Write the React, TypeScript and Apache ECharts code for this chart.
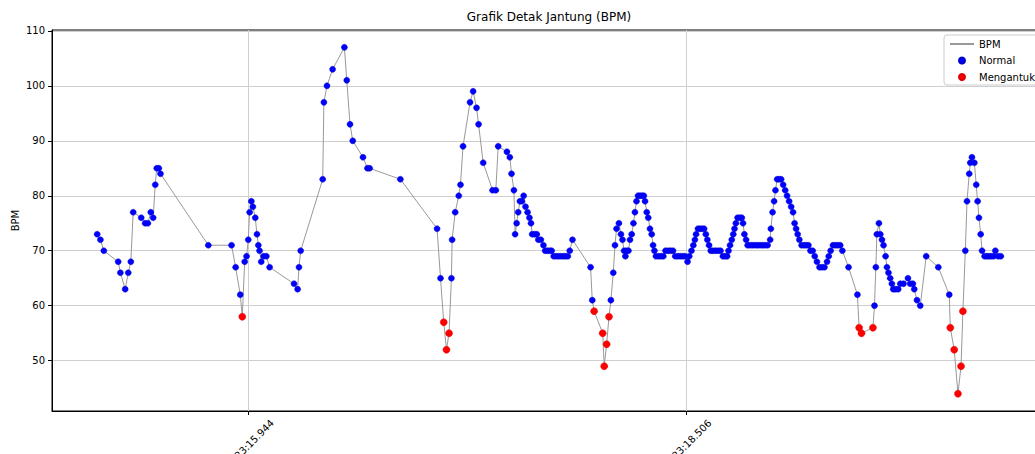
import React, { useEffect, useRef } from "react";
import * as echarts from "echarts";

// time in ms within the minute (HH:MM:ss.SSS -> ss*1000 + SSS)
const timeMs = [
  15057, 15076, 15096, 15180, 15193, 15221, 15239, 15254, 15268, 15315, 15338, 15354, 15371, 15385, 15397, 15406, 15418, 15428,
  15708, 15844, 15868, 15895, 15907, 15921, 15932, 15942, 15950, 15960, 15969, 15983, 15993, 16001, 16008, 16018, 16032, 16048, 16067,
  16210, 16231, 16239, 16249, 16378, 16385, 16403, 16436, 16505, 16519, 16538, 16554, 16614, 16640, 16653, 16833,
  17048, 17068, 17087, 17103, 17118, 17132, 17136, 17154, 17175, 17185, 17200, 17241, 17259, 17279, 17291, 17318, 17373, 17392, 17406,
  17457, 17474, 17484, 17498, 17505, 17514, 17523, 17533, 17545, 17555, 17566, 17578, 17589, 17598, 17605, 17619, 17632, 17641, 17656,
  17671, 17681, 17694, 17708, 17719, 17731, 17745, 17759, 17773, 17787, 17801, 17814, 17825, 17841,
  17947, 17957, 17968, 18018, 18027, 18041, 18055, 18066, 18080, 18090, 18099, 18113, 18125, 18134, 18143, 18151, 18160, 18169, 18178,
  18188, 18198, 18207, 18216, 18225, 18236, 18248, 18259, 18266, 18276, 18285, 18295, 18305, 18313, 18321, 18330, 18345, 18360, 18373,
  18386, 18401, 18415, 18430, 18443, 18458, 18472, 18486, 18500, 18515, 18525, 18538, 18549, 18558, 18565, 18576, 18588, 18600, 18612,
  18622, 18631, 18641, 18651, 18664, 18679, 18694, 18708, 18722, 18735, 18747, 18755, 18764, 18774, 18783, 18790, 18798, 18808, 18821,
  18833, 18840, 18848, 18858, 18867, 18881, 18896, 18911, 18925, 18940, 18955, 18969, 18984,
  18999, 19003, 19013, 19022, 19030, 19040, 19051, 19063, 19075, 19087, 19098, 19110, 19122, 19133, 19142, 19151, 19160, 19170, 19183,
  19197, 19210, 19223, 19235, 19248, 19260, 19273, 19288, 19302, 19317, 19332, 19342, 19353, 19367, 19381, 19395, 19409, 19422, 19458,
  19510, 19520, 19534, 19601, 19610, 19618, 19624, 19636, 19644, 19654, 19663, 19675, 19683, 19692, 19702, 19712, 19720, 19734, 19749,
  19761, 19780, 19806, 19819, 19835, 19843, 19859, 19878, 19913, 19984,
  20048, 20054, 20077, 20099, 20117, 20128, 20142, 20152, 20165, 20171, 20181, 20195, 20206, 20214, 20222, 20232, 20240, 20255, 20268,
  20281, 20294, 20308, 20318, 20334, 20350,
];

const bpm = [
  73, 72, 70, 68, 66, 63, 66, 68, 77, 76, 75, 75, 77, 76, 82, 85, 85, 84,
  71, 71, 67, 62, 58, 68, 69, 72, 77, 79, 78, 76, 73, 71, 70, 68, 69, 69, 67,
  64, 63, 67, 70, 83, 97, 100, 103, 107, 101, 93, 90, 87, 85, 85, 83,
  74, 65, 57, 52, 55, 65, 72, 77, 80, 82, 89, 97, 99, 96, 93, 86, 81, 81, 89,
  88, 87, 84, 81, 73, 75, 77, 79, 79, 80, 78, 77, 76, 75, 73, 73, 73, 72, 72,
  71, 70, 70, 70, 70, 69, 69, 69, 69, 69, 69, 69, 70, 72,
  67, 61, 59, 55, 49, 53, 58, 61, 66, 71, 74, 75, 73, 72, 70, 69, 70, 70, 72,
  73, 75, 77, 79, 80, 80, 80, 80, 79, 77, 76, 74, 73, 71, 70, 69, 69, 69, 69,
  70, 70, 70, 70, 69, 69, 69, 69, 69, 68, 69, 70, 71, 72, 73, 74, 74, 74, 74,
  73, 72, 71, 70, 70, 70, 70, 70, 69, 69, 69, 70, 71, 72, 73, 74, 75, 76, 76,
  76, 75, 73, 72, 71, 71, 71, 71, 71, 71, 71, 71, 71,
  72, 74, 77, 79, 81, 83, 83, 83, 82, 81, 80, 79, 78, 77, 75, 74, 73, 72, 71,
  71, 71, 71, 70, 70, 69, 68, 67, 67, 67, 68, 69, 70, 71, 71, 71, 71, 70, 67,
  62, 56, 55, 56, 60, 67, 73, 75, 73, 72, 71, 69, 67, 66, 65, 64, 63, 63, 63,
  64, 64, 65, 64, 64, 63, 61, 60, 69, 67,
  62, 56, 52, 44, 49, 59, 70, 79, 84, 86, 87, 86, 82, 79, 76, 73, 70, 69, 69,
  69, 69, 69, 70, 69, 69,
];

const xTicks = [15944, 18506];
const yTicks = [50, 60, 70, 80, 90, 100, 110];
const timePrefix = "14:23:";
const drowsyThreshold = 60;

const FONT = "DejaVu Sans";

export default function App() {
  const ref = useRef<HTMLDivElement>(null);

  useEffect(() => {
    if (!ref.current) return;
    const chart = echarts.init(ref.current, null, { renderer: "svg" });
    const all = timeMs.map((t, i) => [t, bpm[i]]);
    const normal = all.filter((p) => p[1] >= drowsyThreshold);
    const drowsy = all.filter((p) => p[1] < drowsyThreshold);
    const xMin = timeMs[0];
    const xMax = timeMs[timeMs.length - 1];
    const xPad = (xMax - xMin) * 0.05;
    const yMinD = Math.min(...bpm);
    const yMaxD = Math.max(...bpm);
    const yPad = (yMaxD - yMinD) * 0.05;

    chart.setOption({
      animation: false,
      textStyle: { fontFamily: FONT },
      title: {
        text: "Grafik Detak Jantung (BPM)",
        left: "center",
        top: 11,
        padding: 0,
        textStyle: { fontSize: 12, fontWeight: "normal", color: "#000", fontFamily: FONT },
      },
      legend: {
        orient: "vertical",
        left: 944,
        top: 35,
        padding: [3, 8, 2, 5],
        itemWidth: 24,
        itemHeight: 6,
        itemGap: 4.5,
        backgroundColor: "rgba(255,255,255,0.85)",
        borderColor: "#cccccc",
        borderWidth: 1,
        borderRadius: 3,
        textStyle: { fontSize: 10, color: "#000", fontFamily: FONT, lineHeight: 12 },
        data: [
          { name: "BPM", itemStyle: { opacity: 0 } },
          { name: "Normal", icon: "circle" },
          { name: "Mengantuk", icon: "circle" },
        ],
      },
      grid: {
        left: 52,
        right: 52,
        top: 30,
        bottom: 43,
        containLabel: false,
        outerBoundsMode: "none",
        show: true,
        borderColor: "#000",
        borderWidth: 1,
        backgroundColor: "transparent",
      },
      xAxis: {
        type: "value",
        min: xMin - xPad,
        max: xMax + xPad,
        axisLine: { show: true, lineStyle: { color: "#000", width: 1 } },
        axisTick: { show: true, length: 4, customValues: xTicks, lineStyle: { color: "#000" } },
        axisLabel: {
          customValues: xTicks,
          rotate: 45,
          align: "center",
          verticalAlign: "middle",
          margin: 34,
          fontSize: 10,
          color: "#000",
          fontFamily: FONT,
          formatter: (v: number) => timePrefix + (v / 1000).toFixed(3),
        },
        splitLine: { show: true, lineStyle: { color: "#cfcfcf", width: 1 } },
      },
      yAxis: {
        type: "value",
        min: yMinD - yPad,
        max: yMaxD + yPad,
        name: "BPM",
        nameLocation: "middle",
        nameGap: 32,
        nameMoveOverlap: false,
        nameTextStyle: { fontSize: 10, color: "#000", fontFamily: FONT },
        axisLine: { show: true, lineStyle: { color: "#000", width: 1 } },
        axisTick: { show: true, length: 4, customValues: yTicks, lineStyle: { color: "#000" } },
        axisLabel: {
          customValues: yTicks,
          margin: 7,
          fontSize: 10,
          color: "#000",
          fontFamily: FONT,
        },
        splitLine: { show: true, lineStyle: { color: "#cfcfcf", width: 1 } },
      },
      series: [
        {
          name: "BPM",
          type: "line",
          data: all,
          symbol: "none",
          showSymbol: false,
          color: "#999999",
          lineStyle: { color: "#999999", width: 1 },
          z: 2,
        },
        {
          name: "Normal",
          type: "scatter",
          data: normal,
          symbolSize: 6,
          itemStyle: { color: "#0000ff", opacity: 1, borderColor: "#0000cc", borderWidth: 0.5 },
          z: 3,
        },
        {
          name: "Mengantuk",
          type: "scatter",
          data: drowsy,
          symbolSize: 7,
          itemStyle: { color: "#ff0000", opacity: 1, borderColor: "#dd0000", borderWidth: 0.5 },
          z: 4,
        },
      ],
    });
    return () => chart.dispose();
  }, []);

  return (
    <div
      style={{
        position: "fixed",
        left: 0,
        top: 0,
        width: 1035,
        height: 454,
        overflow: "hidden",
        background: "#fff",
      }}
    >
      <div ref={ref} style={{ width: 1098, height: 454 }} />
    </div>
  );
}
